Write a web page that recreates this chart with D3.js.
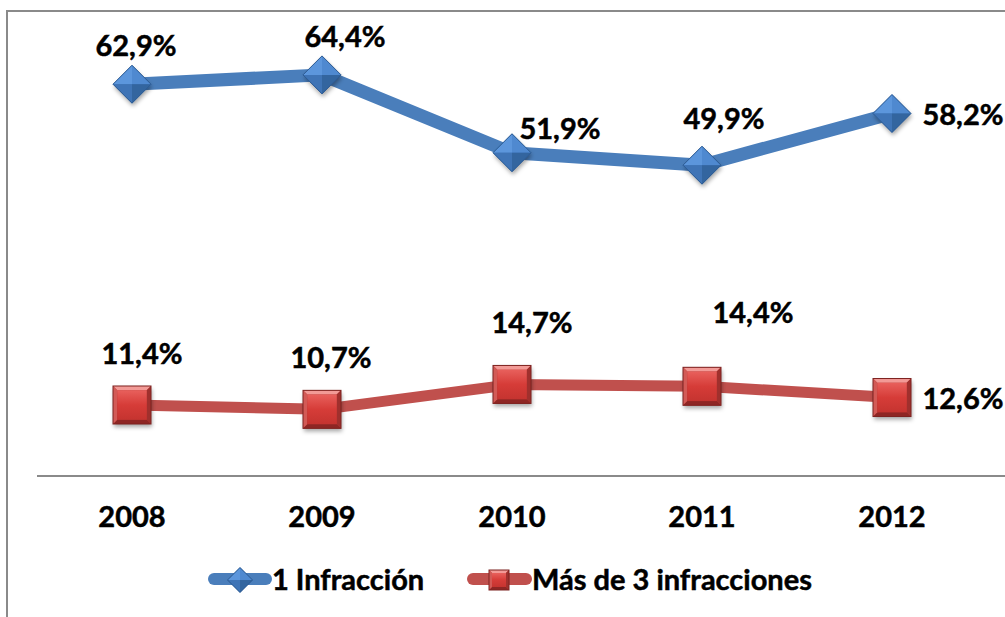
<!DOCTYPE html>
<html>
<head>
<meta charset="utf-8">
<script src="https://cdn.jsdelivr.net/npm/d3@7"></script>
<style>
  body { margin: 0; background: #fff; }
  text { font-family: Lato, "Open Sans", sans-serif; font-weight: bold; fill: #000;
         stroke: #000; stroke-width: 0.5px; }
</style>
</head>
<body>
<svg id="chart" width="1005" height="617"></svg>
<script>
// data
var years = ["2008", "2009", "2010", "2011", "2012"];
var oneInfraction = [62.9, 64.4, 51.9, 49.9, 58.2];
var threePlus = [11.4, 10.7, 14.7, 14.4, 12.6];
var seriesNames = ["1 Infracción", "Más de 3 infracciones"];

// label nudges (centre x offset, baseline y offset) from each point
var blueNudge = [[4, -28], [23, -28], [48, -14], [22, -36], [71, 12]];
var redNudge = [[10, -41], [9, -41], [20, -51], [51, -63], [71, 11]];

var svg = d3.select("#chart"),
    width = +svg.attr("width"),
    height = +svg.attr("height");

var x = d3.scaleBand().domain(years).range([37, 987]),
    y = d3.scaleLinear().domain([0, 70]).range([476, 40]);

var fmt = function(v) { return d3.format(".1f")(v).replace(".", ",") + "%"; };
var fs = 29;

// defs: gradients and shadow
var defs = svg.append("defs");
var sh = defs.append("filter").attr("id", "shadow")
    .attr("x", "-30%").attr("y", "-30%").attr("width", "160%").attr("height", "170%");
sh.append("feDropShadow").attr("dx", 1).attr("dy", 3).attr("stdDeviation", 2)
    .attr("flood-color", "#000").attr("flood-opacity", 0.35);

var rg = defs.append("linearGradient").attr("id", "redFace")
    .attr("x1", 0).attr("y1", 0).attr("x2", 0).attr("y2", 1);
rg.append("stop").attr("offset", "0%").attr("stop-color", "#e8605c");
rg.append("stop").attr("offset", "50%").attr("stop-color", "#d63c38");
rg.append("stop").attr("offset", "100%").attr("stop-color", "#c53430");

// frame
svg.append("path")
    .attr("d", "M7," + height + "V11H" + width)
    .attr("fill", "none").attr("stroke", "#8a8a8a").attr("stroke-width", 2);

// x axis
svg.append("line")
    .attr("x1", 37).attr("x2", width)
    .attr("y1", y(0)).attr("y2", y(0))
    .attr("stroke", "#8a8a8a").attr("stroke-width", 2);

svg.append("g").selectAll("text")
    .data(years)
  .enter().append("text")
    .attr("x", function(d) { return x(d) + x.bandwidth() / 2; })
    .attr("y", 527)
    .attr("text-anchor", "middle")
    .attr("font-size", fs)
    .text(function(d) { return d; });

var cx = function(d, i) { return x(years[i]) + x.bandwidth() / 2; };

var line = d3.line()
    .x(function(d, i) { return cx(d, i); })
    .y(function(d) { return y(d); });

// lines
svg.append("path").datum(oneInfraction)
    .attr("d", line).attr("fill", "none")
    .attr("stroke", "#4a7ebb").attr("stroke-width", 13)
    .attr("stroke-linejoin", "round");
svg.append("path").datum(threePlus)
    .attr("d", line).attr("fill", "none")
    .attr("stroke", "#c0504d").attr("stroke-width", 11)
    .attr("stroke-linejoin", "round");

// diamond marker: four shaded facets
function diamond(g, r, shadow) {
    var outline = "M0," + (-r) + "L" + r + ",0L0," + r + "L" + (-r) + ",0Z";
    var base = g.append("path").attr("d", outline).attr("fill", "#3e72b4");
    if (shadow) base.attr("filter", "url(#shadow)");
    g.append("path").attr("d", "M0," + (-r) + "L" + (-r) + ",0L0,0Z").attr("fill", "#5c96dc");
    g.append("path").attr("d", "M0," + (-r) + "L" + r + ",0L0,0Z").attr("fill", "#4f89d0");
    g.append("path").attr("d", "M" + (-r) + ",0L0," + r + "L0,0Z").attr("fill", "#3f74b6");
    g.append("path").attr("d", "M" + r + ",0L0," + r + "L0,0Z").attr("fill", "#33659f");
    g.append("path").attr("d", outline)
        .attr("fill", "none").attr("stroke", "#2c5a92").attr("stroke-width", 1);
}

// square marker: bevelled
function square(g, s, shadow) {
    var h = s / 2, b = Math.max(3, s / 9);
    var base = g.append("rect").attr("x", -h).attr("y", -h).attr("width", s).attr("height", s)
        .attr("fill", "#b0302d");
    if (shadow) base.attr("filter", "url(#shadow)");
    g.append("path").attr("d", "M" + (-h) + "," + (-h) + "H" + h + "L" + (h - b) + "," + (-h + b) + "H" + (-h + b) + "Z")
        .attr("fill", "#f29a96");
    g.append("path").attr("d", "M" + (-h) + "," + h + "H" + h + "L" + (h - b) + "," + (h - b) + "H" + (-h + b) + "Z")
        .attr("fill", "#8e2624");
    g.append("path").attr("d", "M" + (-h) + "," + (-h) + "V" + h + "L" + (-h + b) + "," + (h - b) + "V" + (-h + b) + "Z")
        .attr("fill", "#d25a56");
    g.append("path").attr("d", "M" + h + "," + (-h) + "V" + h + "L" + (h - b) + "," + (h - b) + "V" + (-h + b) + "Z")
        .attr("fill", "#a0302d");
    g.append("rect").attr("x", -h + b).attr("y", -h + b).attr("width", s - 2 * b).attr("height", s - 2 * b)
        .attr("fill", "url(#redFace)");
    g.append("rect").attr("x", -h).attr("y", -h).attr("width", s).attr("height", s)
        .attr("fill", "none").attr("stroke", "#7d2220").attr("stroke-width", 1);
}

svg.append("g").selectAll("g")
    .data(oneInfraction)
  .enter().append("g")
    .attr("transform", function(d, i) { return "translate(" + cx(d, i) + "," + y(d) + ")"; })
    .each(function() { diamond(d3.select(this), 19, true); });

svg.append("g").selectAll("g")
    .data(threePlus)
  .enter().append("g")
    .attr("transform", function(d, i) { return "translate(" + cx(d, i) + "," + y(d) + ")"; })
    .each(function() { square(d3.select(this), 38, true); });

// value labels
function labels(data, nudge) {
    svg.append("g").selectAll("text")
        .data(data)
      .enter().append("text")
        .attr("font-size", fs)
        .attr("text-anchor", "middle")
        .attr("x", function(d, i) { return cx(d, i) + nudge[i][0]; })
        .attr("y", function(d, i) { return y(d) + nudge[i][1]; })
        .text(fmt);
}
labels(oneInfraction, blueNudge);
labels(threePlus, redNudge);

// legend
var legend = svg.append("g").attr("transform", "translate(0,579)");
var lb = legend.append("g").attr("transform", "translate(208,0)");
lb.append("line").attr("x1", 6).attr("x2", 58).attr("y1", 0).attr("y2", 0)
    .attr("stroke", "#4a7ebb").attr("stroke-width", 12).attr("stroke-linecap", "round");
diamond(lb.append("g").attr("transform", "translate(32,1)"), 12.5, false);
lb.append("text").attr("x", 64).attr("y", 11).attr("font-size", fs).text(seriesNames[0]);

var lr = legend.append("g").attr("transform", "translate(467,0)");
lr.append("line").attr("x1", 6).attr("x2", 59).attr("y1", 0).attr("y2", 0)
    .attr("stroke", "#c0504d").attr("stroke-width", 12).attr("stroke-linecap", "round");
square(lr.append("g").attr("transform", "translate(32,1)"), 20, false);
lr.append("text").attr("x", 65).attr("y", 11).attr("font-size", fs).text(seriesNames[1]);
</script>
</body>
</html>
